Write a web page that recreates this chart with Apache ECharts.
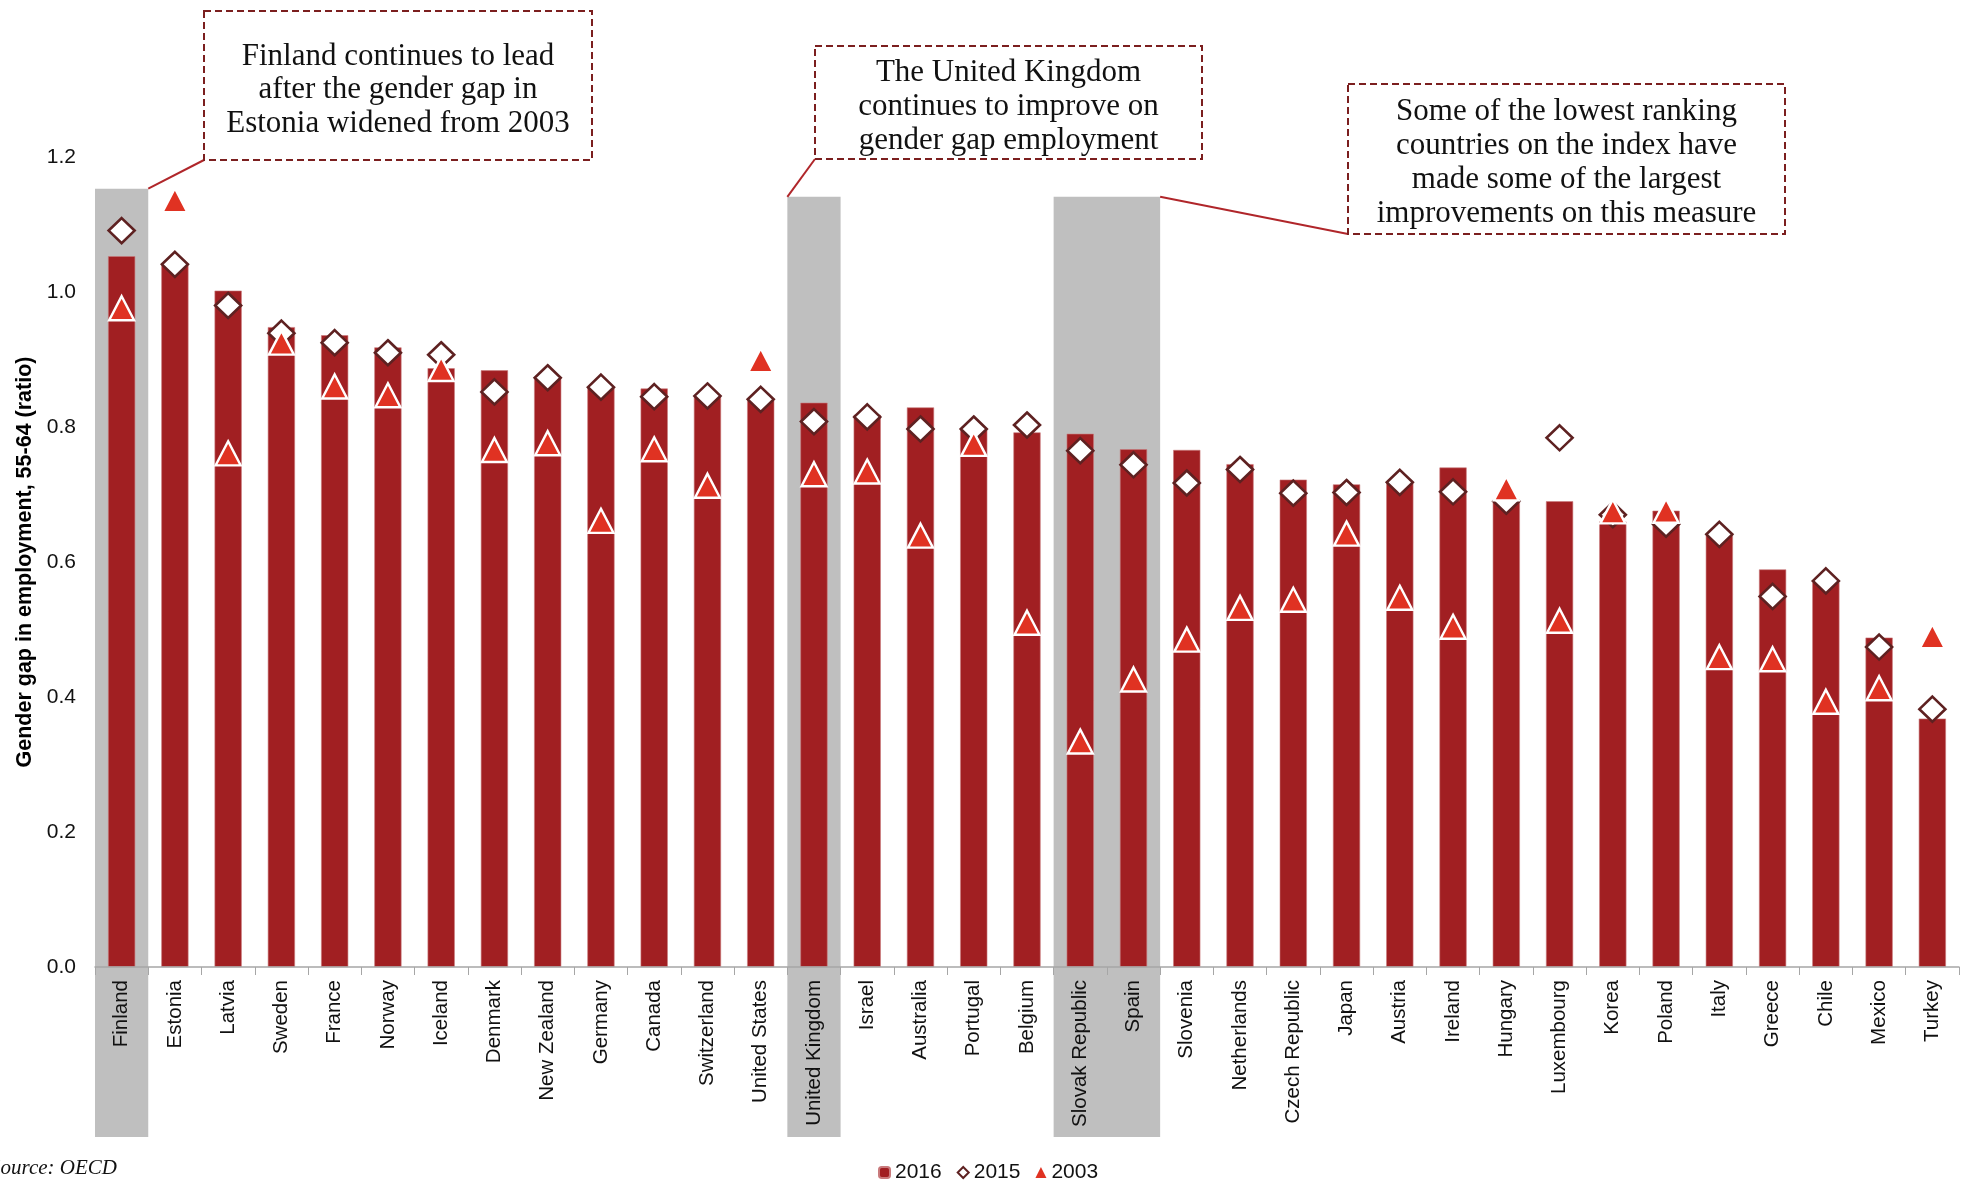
<!DOCTYPE html>
<html>
<head>
<meta charset="utf-8">
<script src="https://cdn.jsdelivr.net/npm/echarts@6/dist/echarts.min.js"></script>
<style>
  html, body { margin: 0; padding: 0; background: #fff; }
  #chart { width: 1966px; height: 1181px; }
</style>
</head>
<body>
<div id="chart"></div>
<script>
const categories = ['Finland','Estonia','Latvia','Sweden','France','Norway','Iceland','Denmark','New Zealand','Germany','Canada','Switzerland','United States','United Kingdom','Israel','Australia','Portugal','Belgium','Slovak Republic','Spain','Slovenia','Netherlands','Czech Republic','Japan','Austria','Ireland','Hungary','Luxembourg','Korea','Poland','Italy','Greece','Chile','Mexico','Turkey'];

const values2016 = [1.053, 1.041, 1.002, 0.948, 0.936, 0.918, 0.887, 0.884, 0.873, 0.858, 0.857, 0.847, 0.840, 0.836, 0.818, 0.829, 0.796, 0.792, 0.790, 0.767, 0.766, 0.745, 0.722, 0.715, 0.719, 0.740, 0.690, 0.690, 0.660, 0.676, 0.641, 0.589, 0.570, 0.488, 0.368];

const values2015 = [1.091, 1.041, 0.980, 0.939, 0.925, 0.910, 0.907, 0.852, 0.873, 0.859, 0.845, 0.846, 0.841, 0.808, 0.815, 0.797, 0.797, 0.803, 0.765, 0.744, 0.717, 0.737, 0.702, 0.703, 0.718, 0.704, 0.690, 0.784, 0.670, 0.656, 0.641, 0.549, 0.572, 0.474, 0.382];

const values2003 = [0.976, 1.136, 0.761, 0.925, 0.860, 0.847, 0.886, 0.766, 0.776, 0.661, 0.767, 0.713, 0.899, 0.730, 0.734, 0.639, 0.775, 0.510, 0.334, 0.426, 0.485, 0.532, 0.544, 0.642, 0.547, 0.504, 0.709, 0.513, 0.675, 0.676, 0.459, 0.456, 0.393, 0.413, 0.490];

const yTicks = [0, 0.2, 0.4, 0.6, 0.8, 1.0, 1.2];

// highlighted groups of countries (grey bands)
const highlightFrom = ['Finland', 'United Kingdom', 'Slovak Republic'];
const highlightTo   = ['Finland', 'United Kingdom', 'Spain'];
const highlightTop  = [1.153, 1.141, 1.141];

const annotations = [
  'Finland continues to lead\nafter the gender gap in\nEstonia widened from 2003',
  'The United Kingdom\ncontinues to improve on\ngender gap employment',
  'Some of the lowest ranking\ncountries on the index have\nmade some of the largest\nimprovements on this measure'
];

const C_BAR = '#A11F22';
const C_TRI = '#E03222';
const C_DIA = '#5E2121';
const C_GREY = '#BFBFBF';

const highlightData = highlightFrom.map((f, i) => [categories.indexOf(f), categories.indexOf(highlightTo[i]), highlightTop[i]]);

const chart = echarts.init(document.getElementById('chart'));

const option = {
  animation: false,
  backgroundColor: '#fff',
  textStyle: { fontFamily: '"Liberation Sans", Arial, sans-serif' },
  grid: { left: 95, right: 7, top: 157, bottom: 214, outerBoundsMode: 'none', containLabel: false },
  xAxis: {
    type: 'category',
    data: categories,
    z: 5,
    axisLine: { show: true, lineStyle: { color: '#A6A6A6', width: 1.5 } },
    axisTick: { show: true, length: 8, lineStyle: { color: '#A6A6A6', width: 1 } },
    axisLabel: { interval: 0, rotate: 90, fontSize: 20.5, color: '#111', margin: 13 },
    splitLine: { show: false }
  },
  yAxis: {
    type: 'value',
    min: yTicks[0],
    max: yTicks[yTicks.length - 1],
    interval: 0.2,
    z: 5,
    name: 'Gender gap in employment, 55-64 (ratio)',
    nameLocation: 'middle',
    nameGap: 53,
    nameTextStyle: { fontSize: 21.5, fontWeight: 'bold', color: '#000' },
    axisLine: { show: false },
    axisTick: { show: false },
    splitLine: { show: false },
    axisLabel: { fontSize: 21, color: '#111', margin: 19, formatter: v => v.toFixed(1) }
  },
  legend: {
    data: [
      { name: '2016' },
      { name: '2015' },
      { name: '2003', itemStyle: { borderWidth: 0 } }
    ],
    left: 873,
    top: 1157,
    itemWidth: 11,
    itemHeight: 11,
    itemGap: 15,
    textStyle: { fontSize: 21, color: '#111' }
  },
  series: [
    {
      name: 'highlight',
      type: 'custom',
      z: 1,
      clip: false,
      silent: true,
      encode: { x: [0, 1], y: 2 },
      data: highlightData,
      renderItem: function (params, api) {
        const a = api.coord([api.value(0), 0]);
        const b = api.coord([api.value(1), api.value(2)]);
        const w = api.size([1, 0])[0];
        const x0 = a[0] - w / 2;
        const x1 = b[0] + w / 2;
        const yTop = b[1];
        const yBot = a[1] + 170;
        return { type: 'rect', shape: { x: x0, y: yTop, width: x1 - x0, height: yBot - yTop }, style: { fill: C_GREY } };
      }
    },
    {
      name: '2016',
      type: 'bar',
      z: 2,
      data: values2016,
      barWidth: '51%',
      itemStyle: { color: C_BAR, borderColor: '#C97A7C', borderWidth: 0.6 }
    },
    {
      name: '2015',
      type: 'scatter',
      z: 3,
      data: values2015,
      symbol: 'diamond',
      symbolSize: [26, 25],
      itemStyle: { color: '#fff', borderColor: C_DIA, borderWidth: 2.6, opacity: 1 }
    },
    {
      name: '2003',
      type: 'scatter',
      z: 4,
      data: values2003,
      symbol: 'triangle',
      symbolSize: [25, 24],
      itemStyle: { color: C_TRI, borderColor: '#fff', borderWidth: 2.4, opacity: 1 }
    }
  ]
};

chart.setOption(option);

// annotation boxes (pixel layout) and connectors to the grey bands
const boxes = [
  { x: 204, y: 11, w: 388, h: 149, textTop: 40, lh: 33.5 },
  { x: 815, y: 46, w: 387, h: 113, textTop: 56, lh: 34 },
  { x: 1348, y: 84, w: 437, h: 150, textTop: 95, lh: 34 }
];

const catW = chart.convertToPixel({ xAxisIndex: 0 }, 1) - chart.convertToPixel({ xAxisIndex: 0 }, 0);
function bandCorner(i, side) {
  const idx = side === 'right' ? highlightData[i][1] : highlightData[i][0];
  const p = chart.convertToPixel({ xAxisIndex: 0, yAxisIndex: 0 }, [idx, highlightData[i][2]]);
  return [p[0] + (side === 'right' ? catW / 2 : -catW / 2), p[1]];
}
const c1 = bandCorner(0, 'right');
const c2 = bandCorner(1, 'left');
const c3 = bandCorner(2, 'right');

const graphics = [];
const connectors = [
  [c1, [boxes[0].x, boxes[0].y + boxes[0].h]],
  [c2, [boxes[1].x, boxes[1].y + boxes[1].h]],
  [c3, [boxes[2].x, boxes[2].y + boxes[2].h]]
];
connectors.forEach(([p, q]) => {
  graphics.push({
    type: 'line', z: 10,
    shape: { x1: p[0], y1: p[1], x2: q[0], y2: q[1] },
    style: { stroke: '#B0262A', lineWidth: 2 }
  });
});
boxes.forEach((b, i) => {
  graphics.push({
    type: 'rect', z: 10,
    shape: { x: b.x, y: b.y, width: b.w, height: b.h },
    style: { fill: '#fff', stroke: '#7B1F1F', lineWidth: 2, lineDash: [7, 4] }
  });
  graphics.push({
    type: 'text', z: 11,
    x: b.x + b.w / 2, y: b.textTop,
    style: {
      text: annotations[i],
      font: '31px "Liberation Serif", "Times New Roman", serif',
      fill: '#111',
      align: 'center',
      verticalAlign: 'top',
      lineHeight: b.lh
    }
  });
});
graphics.push({
  type: 'text', z: 11,
  x: -10, y: 1158,
  style: {
    text: 'Source: OECD',
    font: 'italic 21px "Liberation Serif", "Times New Roman", serif',
    fill: '#111',
    align: 'left',
    verticalAlign: 'top'
  }
});

chart.setOption({ graphic: graphics });
</script>
</body>
</html>
